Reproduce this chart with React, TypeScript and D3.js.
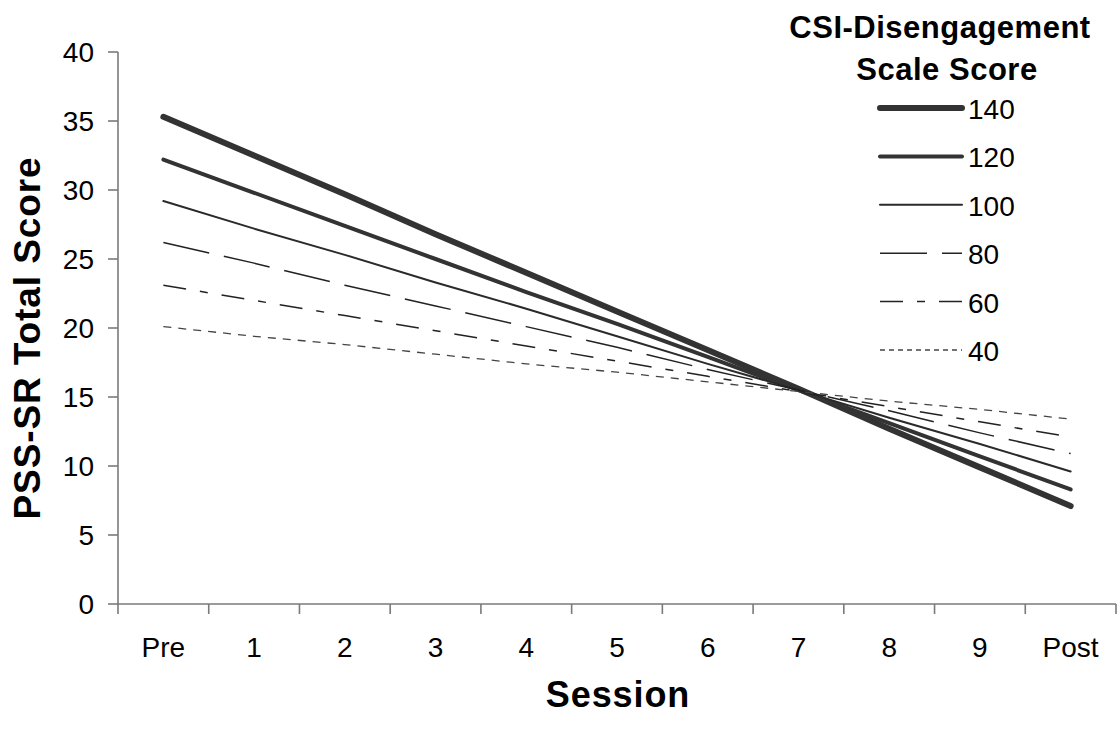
import { useEffect, useRef } from 'react';
import * as d3 from 'd3';

// sessions on the x axis
const sessions = ['Pre', '1', '2', '3', '4', '5', '6', '7', '8', '9', 'Post'];

// predicted PSS-SR total score per CSI-Disengagement level
const csiLevels = ['140', '120', '100', '80', '60', '40'];
const score140 = [35.3, 32.5, 29.7, 26.8, 24.0, 21.2, 18.4, 15.6, 12.7, 9.9, 7.1];
const score120 = [32.2, 29.8, 27.4, 25.0, 22.6, 20.3, 17.9, 15.5, 13.1, 10.7, 8.3];
const score100 = [29.2, 27.2, 25.3, 23.3, 21.4, 19.4, 17.4, 15.5, 13.5, 11.6, 9.6];
const score80 = [26.2, 24.7, 23.1, 21.6, 20.1, 18.6, 17.0, 15.5, 14.0, 12.4, 10.9];
const score60 = [23.1, 22.0, 20.9, 19.8, 18.7, 17.6, 16.5, 15.4, 14.3, 13.2, 12.1];
const score40 = [20.1, 19.4, 18.8, 18.1, 17.4, 16.8, 16.1, 15.4, 14.7, 14.1, 13.4];

const yTicks = [0, 5, 10, 15, 20, 25, 30, 35, 40];

const App = () => {
  const svgRef = useRef<SVGSVGElement>(null);
  const width = 1118;
  const height = 729;

  useEffect(() => {
    const svg = d3.select(svgRef.current);
    svg.selectAll('*').remove();

    const left = 118, right = 1116, top = 52, bottom = 604;
    const font = 'Arial, "Liberation Sans", sans-serif';

    const x = d3.scaleBand().domain(sessions).range([left, right]);
    const y = d3.scaleLinear().domain([0, 40]).range([bottom, top]);

    // line styles per series (heavy to light); legend dash can differ
    const styles = [
      { w: 6, color: '#333', dash: null, legendDash: null },
      { w: 4, color: '#333', dash: null, legendDash: null },
      { w: 2, color: '#2a2a2a', dash: null, legendDash: null },
      { w: 1.5, color: '#222', dash: '47,15', legendDash: '47,15' },
      { w: 1.5, color: '#222', dash: '23,14,8,14', legendDash: '23,14,8,14' },
      { w: 1.3, color: '#444', dash: '8,7', legendDash: '5,4' },
    ];
    const allScores = [score140, score120, score100, score80, score60, score40];

    // axes
    const axisColor = '#7a7a7a';
    svg.append('line')
      .attr('x1', left).attr('x2', left).attr('y1', top).attr('y2', bottom)
      .attr('stroke', axisColor).attr('stroke-width', 1.6);
    svg.append('line')
      .attr('x1', left).attr('x2', right).attr('y1', bottom).attr('y2', bottom)
      .attr('stroke', axisColor).attr('stroke-width', 1.6);

    svg.selectAll('.ytick')
      .data(yTicks)
      .join('line')
      .attr('class', 'ytick')
      .attr('x1', left - 10).attr('x2', left)
      .attr('y1', d => y(d)).attr('y2', d => y(d))
      .attr('stroke', axisColor).attr('stroke-width', 1.6);

    svg.selectAll('.ylabel')
      .data(yTicks)
      .join('text')
      .attr('class', 'ylabel')
      .attr('x', 94)
      .attr('y', d => y(d) + 10)
      .attr('text-anchor', 'end')
      .attr('font-family', font)
      .attr('font-size', 28)
      .text(d => d);

    const xEdges = sessions.map(s => x(s)).concat([right]);
    svg.selectAll('.xtick')
      .data(xEdges)
      .join('line')
      .attr('class', 'xtick')
      .attr('x1', d => d).attr('x2', d => d)
      .attr('y1', bottom).attr('y2', bottom + 10)
      .attr('stroke', axisColor).attr('stroke-width', 1.6);

    svg.selectAll('.xlabel')
      .data(sessions)
      .join('text')
      .attr('class', 'xlabel')
      .attr('x', d => x(d) + x.bandwidth() / 2)
      .attr('y', 657)
      .attr('text-anchor', 'middle')
      .attr('font-family', font)
      .attr('font-size', 28)
      .text(d => d);

    // axis titles
    svg.append('text')
      .attr('x', (left + right) / 2 + 1)
      .attr('y', 707)
      .attr('text-anchor', 'middle')
      .attr('font-family', font)
      .attr('font-size', 36)
      .attr('font-weight', 'bold')
      .attr('letter-spacing', 0.9)
      .text('Session');

    svg.append('text')
      .attr('transform', 'translate(40,338) rotate(-90)')
      .attr('text-anchor', 'middle')
      .attr('font-family', font)
      .attr('font-size', 37)
      .attr('font-weight', 'bold')
      .attr('letter-spacing', 0.9)
      .text('PSS-SR Total Score');

    // series lines
    const line = d3.line<number>()
      .x((d, i) => x(sessions[i]) + x.bandwidth() / 2)
      .y(d => y(d));

    svg.selectAll('.series')
      .data(allScores)
      .join('path')
      .attr('class', 'series')
      .attr('d', d => line(d))
      .attr('fill', 'none')
      .attr('stroke', (d, i) => styles[i].color)
      .attr('stroke-width', (d, i) => styles[i].w)
      .attr('stroke-dasharray', (d, i) => styles[i].dash)
      .attr('stroke-linecap', (d, i) => (styles[i].dash ? 'butt' : 'round'))
      .attr('stroke-linejoin', 'round');

    // legend
    const legendTitle = svg.append('text')
      .attr('text-anchor', 'middle')
      .attr('font-family', font)
      .attr('font-size', 31)
      .attr('font-weight', 'bold')
      .attr('letter-spacing', 0.5);
    legendTitle.append('tspan').attr('x', 940).attr('y', 38).text('CSI-Disengagement');
    legendTitle.append('tspan').attr('x', 947).attr('y', 80).text('Scale Score');

    const rowY = d3.scaleLinear().domain([0, csiLevels.length - 1]).range([108, 350]);
    const rows = svg.selectAll('.legend-row')
      .data(csiLevels)
      .join('g')
      .attr('class', 'legend-row')
      .attr('transform', (d, i) => `translate(0,${rowY(i)})`);

    rows.append('line')
      .attr('x1', 880).attr('x2', 962)
      .attr('y1', 0).attr('y2', 0)
      .attr('stroke', (d, i) => styles[i].color)
      .attr('stroke-width', (d, i) => styles[i].w)
      .attr('stroke-dasharray', (d, i) => styles[i].legendDash)
      .attr('stroke-linecap', (d, i) => (styles[i].legendDash ? 'butt' : 'round'));

    rows.append('text')
      .attr('x', 968)
      .attr('y', 11)
      .attr('font-family', font)
      .attr('font-size', 28)
      .text(d => d);
  }, []);

  return (
    <>
      <style>{'body{margin:0}'}</style>
      <svg ref={svgRef} width={width} height={height} style={{ display: 'block', background: '#fff' }} />
    </>
  );
};

export default App;
